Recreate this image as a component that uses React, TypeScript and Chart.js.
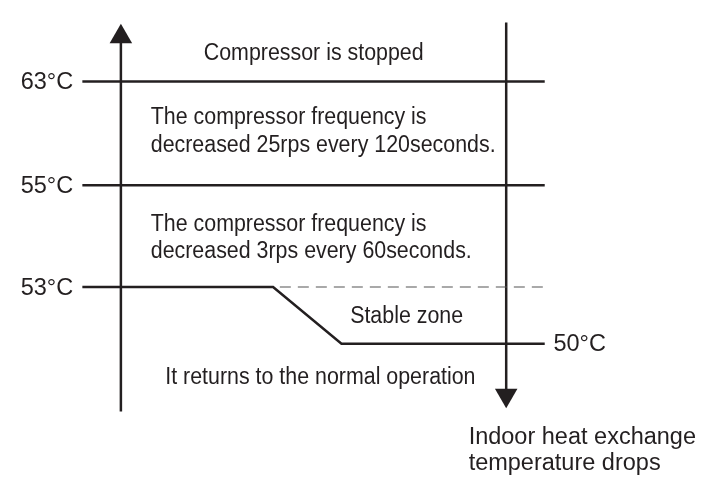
import React, { useEffect, useRef } from 'react';
import { Chart, registerables } from 'chart.js';

Chart.register(...registerables);

// ---- data (schematic diagram units: x 0..708 across, y 0..485 top-down) ----
const thresholdTemps = [63, 55, 53, 50];
const thresholdLabels = ['63°C', '55°C', '53°C', '50°C'];
const thresholdLevels = [72.5, 182, 289.5, 349.5];

const zoneTexts = [
  'Compressor is stopped',
  'The compressor frequency is',
  'decreased 25rps every 120seconds.',
  'The compressor frequency is',
  'decreased 3rps every 60seconds.',
  'Stable zone',
  'It returns to the normal operation',
];
const zoneTextX = [198, 143, 143, 143, 143, 350, 158];
const zoneTextY = [50, 117, 147, 230, 259, 328, 392];

const axisCaption = ['Indoor heat exchange', 'temperature drops'];
const axisCaptionX = [473, 473];
const axisCaptionY = [455, 483];

// horizontal extents of the threshold lines
const lineStartX = 72;
const lineEndX = 552;
const slopeStartX = 270;
const slopeEndX = 341;
const dashStartX = 277;
const dashEndX = 555;

// vertical axes
const upAxisX = 112;
const upAxisBottom = 421;
const upAxisTop = 30;
const upArrowTip = 25;
const downAxisX = 512;
const downAxisTop = 10;
const downAxisBottom = 398;
const downArrowTip = 404;

const INK = '#231f20';

const textPlugin = {
  id: 'diagramText',
  afterDatasetsDraw(chart: any) {
    const { ctx, scales } = chart;
    const xs = scales.x;
    const ys = scales.y;
    const draw = (t: string, xv: number, yv: number, size: number, sx: number) => {
      ctx.save();
      ctx.translate(xs.getPixelForValue(xv), ys.getPixelForValue(yv));
      ctx.scale(sx, 1);
      ctx.font = `${size}px "Liberation Sans", Arial, sans-serif`;
      ctx.fillStyle = INK;
      ctx.textAlign = 'left';
      ctx.textBaseline = 'alphabetic';
      ctx.fillText(t, 0, 0);
      ctx.restore();
    };
    zoneTexts.forEach((t, i) => draw(t, zoneTextX[i], zoneTextY[i], 23, 0.93));
    thresholdLabels.forEach((t, i) => {
      const isLast = i === thresholdTemps.length - 1;
      draw(t, isLast ? 561 : 8, thresholdLevels[i] + 8, 23.5, 1);
    });
    axisCaption.forEach((t, i) => draw(t, axisCaptionX[i], axisCaptionY[i], 23.5, 1));
  },
};

export default function App() {
  const ref = useRef<HTMLCanvasElement | null>(null);

  useEffect(() => {
    document.body.style.margin = '0';
    if (!ref.current) return;

    const line = (pts: { x: number; y: number }[], extra: any = {}) => ({
      data: pts,
      showLine: true,
      borderColor: INK,
      borderWidth: 2.5,
      pointRadius: 0,
      fill: false,
      tension: 0,
      ...extra,
    });

    const [y63, y55, y53, y50] = thresholdLevels;

    const datasets: any[] = [
      line([{ x: lineStartX, y: y63 }, { x: lineEndX, y: y63 }]),
      line([{ x: lineStartX, y: y55 }, { x: lineEndX, y: y55 }]),
      line([
        { x: lineStartX, y: y53 },
        { x: slopeStartX, y: y53 },
        { x: slopeEndX, y: y50 },
        { x: lineEndX, y: y50 },
      ], { borderJoinStyle: 'miter' }),
      line([{ x: dashStartX, y: y53 }, { x: dashEndX, y: y53 }], {
        borderColor: '#555',
        borderWidth: 1.2,
        borderDash: [11, 7],
      }),
      line([{ x: upAxisX, y: upAxisBottom }, { x: upAxisX, y: upAxisTop }]),
      line([{ x: downAxisX, y: downAxisTop }, { x: downAxisX, y: downAxisBottom }]),
      {
        data: [{ x: upAxisX, y: upArrowTip }],
        showLine: false,
        pointStyle: 'triangle',
        pointRadius: 13,
        pointRotation: 0,
        backgroundColor: INK,
        borderWidth: 0,
      },
      {
        data: [{ x: downAxisX, y: downArrowTip }],
        showLine: false,
        pointStyle: 'triangle',
        pointRadius: 13,
        pointRotation: 180,
        backgroundColor: INK,
        borderWidth: 0,
      },
    ];

    const chart = new Chart(ref.current, {
      type: 'scatter',
      data: { datasets },
      options: {
        animation: false,
        responsive: false,
        maintainAspectRatio: false,
        devicePixelRatio: 1,
        layout: { padding: 0 },
        plugins: { legend: { display: false }, tooltip: { enabled: false } },
        scales: {
          x: { type: 'linear', min: 0, max: 708, display: false },
          y: { type: 'linear', min: 0, max: 485, reverse: true, display: false },
        },
        elements: { line: { borderCapStyle: 'butt' } },
      } as any,
      plugins: [textPlugin],
    });
    return () => chart.destroy();
  }, []);

  return (
    <div style={{ position: 'fixed', left: 0, top: 0, width: 708, height: 485, background: '#fff' }}>
      <canvas ref={ref} width={708} height={485} style={{ display: 'block', width: 708, height: 485 }} />
    </div>
  );
}
